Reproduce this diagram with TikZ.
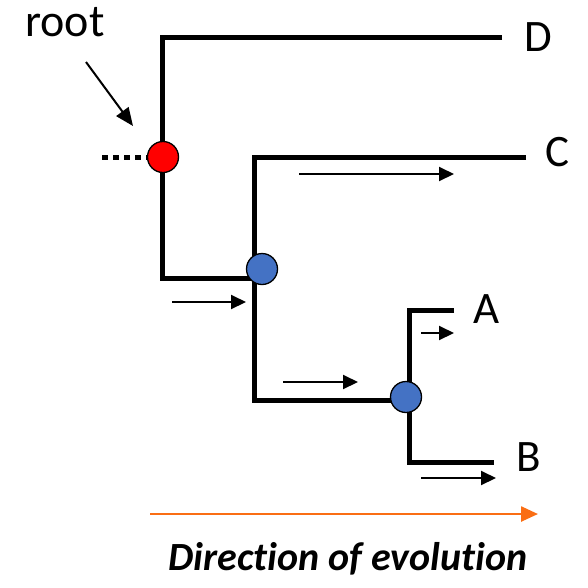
\documentclass[tikz,border=0pt]{standalone}
\usepackage{fontspec}
\setmainfont{Carlito}
\usetikzlibrary{arrows.meta}
\definecolor{nodeblue}{RGB}{68,114,196}
\definecolor{evoorange}{RGB}{250,110,20}
\tikzset{
  branch/.style={line width=5pt, line join=miter, line cap=butt},
  nodedot/.style={circle, draw=black, line width=1.3pt, minimum size=31pt, inner sep=0pt},
  rootdot/.style={nodedot, fill=red},
  innerdot/.style={nodedot, fill=nodeblue},
  trend/.style={line width=2pt, -{Triangle[length=15pt,width=14pt]}},
  leaflabel/.style={font=\fontsize{45}{50}\selectfont, anchor=base west, inner sep=0pt},
}
\begin{document}
\begin{tikzpicture}[x=1pt,y=-1pt]
\useasboundingbox (0,0) rectangle (588,587);
% branch points
\coordinate (R) at (163,157);
\coordinate (N1) at (262,269);
\coordinate (N2) at (406,397);
\coordinate (Dend) at (502,37);
\coordinate (Cend) at (526,157);
\coordinate (Aend) at (454,310);
\coordinate (Bend) at (494,462);
\coordinate (Rbot) at (254,278);
\coordinate (Cbot) at (409,400);
% tree
\draw[branch] (Dend) -- (162,37) -- (162,278) -- (Rbot);
\draw[branch] (Cend) -- (254,157) -- (254,400) -- (Cbot);
\draw[branch] (Aend) -- (409,310) -- (409,462) -- (Bend);
\coordinate (stem) at (102,157);
\draw[line width=5pt, dash pattern=on 6pt off 5pt] (stem) -- (R);
% nodes
\node[rootdot] (r) at (R) {};
\node[innerdot] (n1) at (N1) {};
\node[innerdot] (n2) at (N2) {};
% labels
\node[leaflabel] (D) at (524,51) {D};
\node[leaflabel] (C) at (545,166) {C};
\node[leaflabel] (A) at (473,323) {A};
\node[leaflabel] (B) at (516,471) {B};
\node[font=\fontsize{46}{50}\selectfont, anchor=base, inner sep=0pt] (root) at (65,36) {root};
% root pointer
\coordinate (rp1) at (86,62);
\coordinate (rp2) at (133,126);
\draw[line width=2pt, -{Triangle[length=18pt,width=15pt]}] (rp1) -- (rp2);
% trend arrows
\coordinate (c1) at (299,174); \coordinate (c2) at (454,174);
\draw[trend] (c1) -- (c2);
\coordinate (l1) at (172,302); \coordinate (l2) at (246,302);
\draw[trend] (l1) -- (l2);
\coordinate (m1) at (283,382); \coordinate (m2) at (358,382);
\draw[trend] (m1) -- (m2);
\coordinate (a1) at (421,333); \coordinate (a2) at (454,333);
\draw[trend] (a1) -- (a2);
\coordinate (b1) at (421,478); \coordinate (b2) at (496,478);
\draw[trend] (b1) -- (b2);
% direction of evolution
\coordinate (e1) at (150,514); \coordinate (e2) at (538,514);
\draw[evoorange, line width=2.5pt, -{Triangle[length=17pt,width=15pt]}] (e1) -- (e2);
\node[font=\fontsize{40}{46}\selectfont\bfseries\itshape\addfontfeatures{Ligatures=NoCommon}, anchor=base, inner sep=0pt] (dir) at (348,570) {Direct\kern0pt ion of evolut\kern0pt ion};
\end{tikzpicture}
\end{document}
